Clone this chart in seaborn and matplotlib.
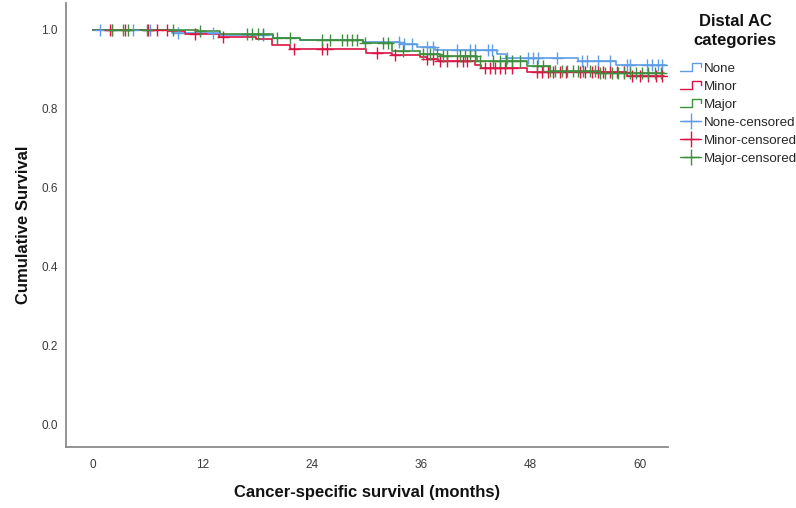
import numpy as np
import pandas as pd
import matplotlib
matplotlib.use("Agg")
import matplotlib.pyplot as plt
import seaborn as sns
from matplotlib.legend_handler import HandlerBase
from matplotlib.lines import Line2D

# Kaplan-Meier estimates per distal AC category: event times (months) and survival after each step
groups = ["None", "Minor", "Major"]

none_event_t = [8.7, 13.9, 19.7, 22.7, 29.6, 33.7, 35.5, 37.5, 44.3, 45.3, 53.2, 57.3]
none_surv = [0.993, 0.988, 0.980, 0.975, 0.970, 0.964, 0.957, 0.950, 0.940, 0.929, 0.920, 0.910]
none_end = 62.8
none_censor = [0.8, 2.1, 4.4, 6.3, 9.3, 13.2, 18.6, 33.6, 34.1, 35.0, 36.6, 37.3, 39.9,
               41.3, 41.9, 43.3, 43.8, 45.4, 47.7, 48.2, 48.8, 50.9, 53.6, 54.2, 55.4,
               56.7, 58.6, 58.9, 60.7, 61.3, 62.0, 62.4]

minor_event_t = [8.2, 10.1, 13.8, 17.9, 19.6, 21.6, 29.9, 32.8, 35.9, 36.6, 37.8, 41.9, 42.5, 47.6, 58.6]
minor_surv = [0.996, 0.990, 0.982, 0.976, 0.962, 0.951, 0.942, 0.936, 0.931, 0.926, 0.921,
              0.912, 0.904, 0.893, 0.884]
minor_end = 62.6
minor_censor = [1.9, 3.5, 6.0, 7.0, 8.1, 11.2, 14.3, 22.0, 25.1, 25.7, 31.1, 33.1, 36.6, 37.3,
                38.0, 38.8, 39.9, 40.6, 41.0, 43.0, 43.5, 44.1, 44.6, 45.2, 45.9, 48.7, 49.2,
                49.9, 50.4, 51.2, 51.9, 53.4, 53.9, 54.7, 55.4, 55.9, 56.7, 57.5, 58.2, 59.1,
                60.0, 60.9, 61.7, 62.4]

major_event_t = [11.5, 13.9, 19.7, 22.7, 29.6, 32.8, 35.9, 38.0, 42.1, 47.6, 50.1, 55.6]
major_surv = [0.997, 0.990, 0.980, 0.975, 0.966, 0.947, 0.938, 0.933, 0.920, 0.909, 0.895, 0.890]
major_end = 62.6
major_censor = [2.1, 3.3, 3.8, 5.9, 8.8, 11.7, 16.9, 17.4, 18.1, 18.6, 20.2, 21.6, 25.1, 26.0,
                27.3, 27.9, 28.4, 28.9, 29.8, 31.8, 32.3, 34.0, 36.2, 37.0, 37.7, 38.4, 38.8,
                40.2, 40.8, 41.3, 41.9, 42.4, 43.9, 44.6, 45.3, 45.9, 46.8, 48.7, 49.3, 50.1,
                50.7, 51.4, 52.0, 52.6, 53.2, 53.7, 54.5, 55.0, 55.6, 56.1, 56.9, 57.6, 58.2,
                58.9, 59.5, 60.2, 60.9, 61.6, 62.3]

x_ticks = [0, 12, 24, 36, 48, 60]
y_ticks = [0.0, 0.2, 0.4, 0.6, 0.8, 1.0]

palette = {"None": "#5f9ee6", "Minor": "#dc1446", "Major": "#3d8f3d"}

series = {
    "None": (none_event_t, none_surv, none_end, none_censor),
    "Minor": (minor_event_t, minor_surv, minor_end, minor_censor),
    "Major": (major_event_t, major_surv, major_end, major_censor),
}

curve_rows, censor_rows = [], []
for g in groups:
    ev_t, surv, end, cens = series[g]
    times = [0.0] + list(ev_t) + [end]
    vals = [1.0] + list(surv) + [surv[-1]]
    for t, v in zip(times, vals):
        curve_rows.append((g, t, v))
    steps = np.array([1.0] + list(surv))
    idx = np.searchsorted(np.array(ev_t), np.array(cens), side="right")
    for t, v in zip(cens, steps[idx]):
        censor_rows.append((g, t, v))

curves = pd.DataFrame(curve_rows, columns=["group", "time", "surv"])
censored = pd.DataFrame(censor_rows, columns=["group", "time", "surv"])

sns.set_style("white")
plt.rcParams["font.family"] = ["Liberation Sans", "DejaVu Sans"]

fig = plt.figure(figsize=(7.96, 5.08), dpi=100)
ax = fig.add_axes([66 / 796, 61 / 508, (668 - 66) / 796, (505 - 61) / 508])

sns.lineplot(data=curves, x="time", y="surv", hue="group", palette=palette,
             drawstyle="steps-post", estimator=None, sort=False, legend=False,
             linewidth=1.2, ax=ax)
sns.scatterplot(data=censored, x="time", y="surv", hue="group", palette=palette,
                marker="+", s=75, linewidth=1.0, legend=False, ax=ax, zorder=3)

ax.set_xlim(-2.96, 63.05)
ax.set_ylim(-0.0557, 1.068)
ax.set_xticks(x_ticks)
ax.set_xticklabels([str(v) for v in x_ticks])
ax.set_yticks(y_ticks)
ax.set_yticklabels([f"{v:.1f}" for v in y_ticks])
ax.tick_params(axis="both", length=0, labelsize=8.5, colors="#3a3a3a")
ax.tick_params(axis="x", pad=9)
ax.tick_params(axis="y", pad=6)
for side in ("top", "right"):
    ax.spines[side].set_visible(False)
for side in ("left", "bottom"):
    ax.spines[side].set_color("#8a8a8a")
    ax.spines[side].set_linewidth(1.3)

ax.set_xlabel("Cancer-specific survival (months)", fontsize=12, fontweight="bold",
              labelpad=10, color="#111111")
ax.set_ylabel("Cumulative Survival", fontsize=12, fontweight="bold", labelpad=7,
              color="#111111")


class StepHandler(HandlerBase):
    def create_artists(self, legend, orig_handle, xdescent, ydescent, width, height,
                       fontsize, trans):
        x0 = -xdescent
        x1 = x0 + width
        xm = x0 + 0.55 * width
        lo = -ydescent + 0.1 * height
        hi = -ydescent + 0.95 * height
        mid = -ydescent + 0.6 * height
        line = Line2D([x0, xm, xm, x1, x1], [lo, lo, hi, hi, mid],
                      color=orig_handle.get_color(), linewidth=1.0, transform=trans)
        return [line]


handles, labels, handler_map = [], [], {}
for g in groups:
    h = Line2D([], [], color=palette[g])
    handles.append(h)
    labels.append(g)
    handler_map[h] = StepHandler()
for g in groups:
    handles.append(Line2D([], [], color=palette[g], marker="+", markersize=11,
                          markeredgewidth=1.0, linewidth=1.0))
    labels.append(f"{g}-censored")

leg = fig.legend(handles, labels, handler_map=handler_map, loc="upper left",
                 bbox_to_anchor=(680 / 796, 1 - 63 / 508), frameon=False, fontsize=9.6,
                 handlelength=1.6, handletextpad=0.2,
                 labelspacing=0.42, borderaxespad=0, borderpad=0)

fig.text(735 / 796, 1 - 31 / 508, "Distal AC\ncategories", ha="center", va="center",
         multialignment="center", fontsize=12, fontweight="bold", color="#111111",
         linespacing=1.3)

fig.savefig("out.png", dpi=100)
